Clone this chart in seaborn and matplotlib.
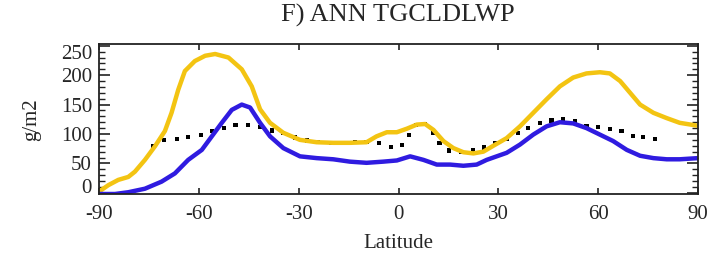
import numpy as np
import pandas as pd
import matplotlib
matplotlib.use("Agg")
import matplotlib.pyplot as plt
import matplotlib.transforms as mtransforms
from matplotlib.ticker import MultipleLocator
import seaborn as sns

# zonal mean annual liquid water path: two model curves and observations (dots)
yellow_lat = [-90.0, -87.2, -84.2, -81.2, -79.2, -76.2, -73.2, -70.2, -68.2, -66.2, -64.2, -61.2,
              -58.1, -55.1, -51.1, -47.1, -44.1, -41.6, -38.6, -34.6, -29.6, -24.6, -19.6, -14.6,
              -9.6, -6.6, -3.5, -0.5, 2.5, 5.5, 8.0, 10.5, 13.5, 16.5, 19.5, 22.5, 25.5, 28.5,
              32.5, 36.5, 40.5, 44.5, 48.5, 52.5, 56.5, 60.5, 63.5, 66.6, 69.6, 72.6, 76.6,
              80.6, 84.5, 90.0]
yellow_val = [2, 13, 22, 27, 36, 56, 79, 105, 136, 175, 207, 224,
              233, 236, 230, 210, 181, 142, 119, 102, 90, 86, 85, 85,
              86, 96, 103, 103, 109, 116, 117, 107, 88, 76, 69, 67, 70, 80,
              93, 113, 136, 159, 181, 196, 203, 205, 203, 190, 170, 150, 136,
              127, 119, 114]

blue_lat = [-90.0, -85.2, -81.2, -76.2, -71.2, -67.2, -63.2, -59.1, -56.1, -53.1, -50.1, -47.1,
            -44.6, -41.6, -38.6, -34.6, -29.6, -24.6, -19.6, -14.6, -9.6, -4.6, -0.5, 3.5,
            7.5, 11.5, 15.5, 19.5, 23.5, 26.5, 28.5, 32.5, 36.5, 40.5, 44.5, 48.5, 52.5,
            56.5, 60.5, 64.5, 68.6, 72.6, 76.6, 80.6, 84.5, 90.0]
blue_val = [-2, -2, 1, 7, 19, 33, 56, 73, 96, 119, 141, 150,
            145, 119, 96, 76, 62, 59, 57, 53, 51, 53, 55, 62,
            56, 48, 48, 46, 48, 56, 60, 68, 82, 99, 113, 120, 118,
            110, 99, 88, 73, 63, 59, 57, 57, 59]

obs_lat = [-73.7, -70.4, -66.6, -63.2, -59.4, -56.0, -52.4, -49.0, -45.3, -41.6, -38.1, -34.6,
           -31.1, -27.6, -24.1, -20.4, -16.8, -13.1, -9.6, -5.8, -2.3, 1.1, 3.2, 5.3, 8.0,
           10.3, 12.3, 15.2, 18.7, 22.3, 25.8, 29.0, 32.5, 36.0, 39.0, 42.5, 46.0, 49.5,
           53.0, 56.5, 60.0, 63.5, 67.0, 70.5, 73.5, 77.1]
obs_val = [80, 90, 91, 95, 99, 105, 110, 116, 116, 112, 106, 101,
           94, 89, 86, 85, 85, 86, 86, 84, 78, 82, 99, 116, 117,
           101, 84, 72, 70, 72, 77, 84, 92, 101, 110, 119, 123, 125,
           122, 114, 112, 109, 105, 96, 95, 92]

x_ticks = [-90, -60, -30, 0, 30, 60, 90]
y_ticks = [0, 50, 100, 150, 200, 250]

sns.set_style("white")
plt.rcParams["font.family"] = ["Liberation Serif", "DejaVu Serif"]
plt.rcParams["axes.edgecolor"] = "black"

fig = plt.figure(figsize=(7.18, 2.59), dpi=100)
ax = fig.add_axes([99 / 718, 1 - 194 / 259, 599 / 718, 150 / 259])

yel = pd.DataFrame({"lat": yellow_lat, "val": yellow_val})
blu = pd.DataFrame({"lat": blue_lat, "val": blue_val})
obs = pd.DataFrame({"lat": obs_lat, "val": obs_val})

sns.lineplot(data=yel, x="lat", y="val", ax=ax, color="#F3C412", lw=3.2,
             solid_joinstyle="round", solid_capstyle="round")
sns.lineplot(data=blu, x="lat", y="val", ax=ax, color="#2F1BE0", lw=3.2,
             solid_joinstyle="round", solid_capstyle="round")
sns.scatterplot(data=obs, x="lat", y="val", ax=ax, color="black", marker="s", s=9,
                edgecolor="none")

ax.set_xlim(-90, 90)
ax.set_ylim(-2, 253)
ax.set_xticks(x_ticks)
ax.set_xticklabels([str(t) for t in x_ticks])
ax.set_yticks(y_ticks)
ax.set_yticklabels([str(t) for t in y_ticks])
ax.yaxis.set_minor_locator(MultipleLocator(10))
ax.set_xlabel("")
ax.set_ylabel("")

for s in ax.spines.values():
    s.set_linewidth(1.3)
    s.set_color("#222222")

ax.tick_params(axis="x", which="major", direction="in", length=4, width=1.2,
               top=True, bottom=True, labelsize=15, pad=8, color="#222222")
ax.tick_params(axis="y", which="major", direction="in", length=8, width=1.2,
               left=True, right=True, labelsize=15, pad=5, color="#222222")
ax.tick_params(axis="y", which="minor", direction="in", length=4, width=1.0,
               left=True, right=True, color="#222222")

# end labels sit a little inward, as in the original
labs = ax.get_yticklabels()
labs[0].set_transform(labs[0].get_transform() + mtransforms.ScaledTranslation(0, 7 / 100, fig.dpi_scale_trans))
labs[-1].set_transform(labs[-1].get_transform() + mtransforms.ScaledTranslation(0, -6 / 100, fig.dpi_scale_trans))

fig.text(398 / 718, 1 - 15 / 259, "F) ANN TGCLDLWP", ha="center", va="center", fontsize=19)
fig.text(398 / 718, 1 - 243 / 259, "Latitude", ha="center", va="center", fontsize=15)
fig.text(32 / 718, 1 - 120 / 259, "g/m2", ha="center", va="center", rotation=90, fontsize=15)

fig.savefig("out.png", dpi=100)
